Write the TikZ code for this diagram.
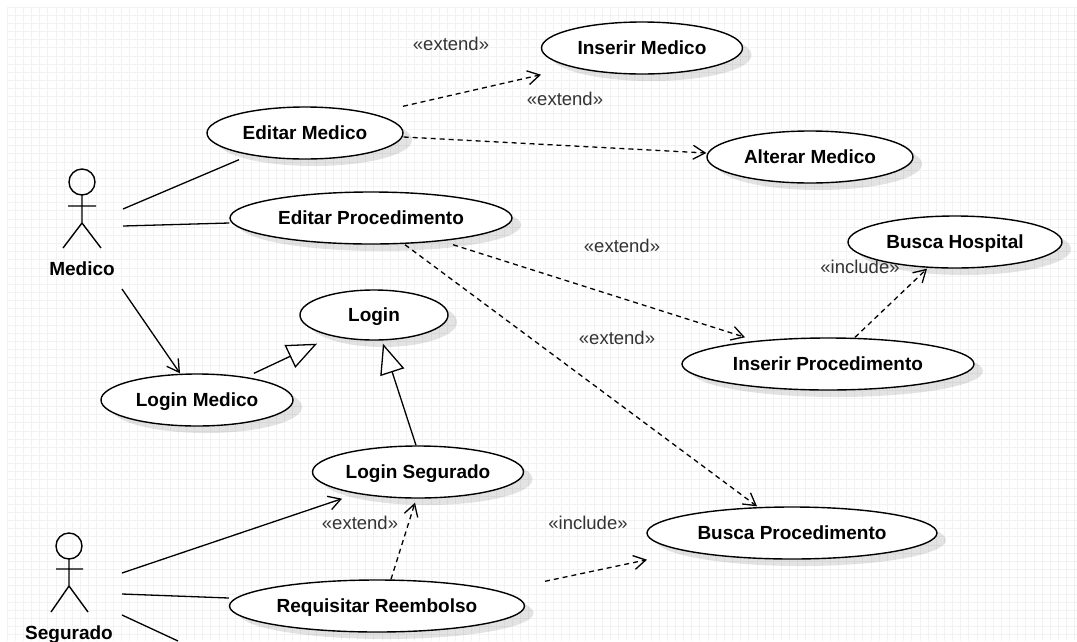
\documentclass[tikz,border=0pt]{standalone}
\usepackage{fontspec}
\setmainfont{Liberation Sans}
\usetikzlibrary{shapes.geometric,arrows.meta,shadows}
\begin{document}
\begin{tikzpicture}[x=1pt,y=-1pt,
  uc/.style={ellipse,draw,line width=1.4pt,fill=white,inner sep=0pt,
    font=\fontsize{19}{19}\selectfont\bfseries,text height=13.6pt,text depth=0pt,
    drop shadow={shadow xshift=9pt,shadow yshift=-7pt,fill=black,opacity=0.11}},
  lbl/.style={font=\fontsize{18.5}{18.5}\selectfont,text=black!80,inner sep=0pt},
  actorlbl/.style={font=\fontsize{19}{19}\selectfont\bfseries,inner sep=0pt},
  stick/.style={line width=1.4pt},
  assoc/.style={line width=1.3pt},
  navarrow/.style={line width=1.3pt,-{Straight Barb[length=12pt,width=14pt]}},
  dep/.style={line width=1.3pt,dash pattern=on 5pt off 4pt,-{Straight Barb[length=12pt,width=14pt]}},
  gen/.style={line width=1.3pt,-{Triangle[length=30pt,width=25pt,fill=white]}},
  gridline/.style={line width=0.6pt,draw=black!5}
]
\useasboundingbox (0,0) rectangle (1077,641);
\fill[white] (0,0) rectangle (1077,641);
% grid
\foreach \i in {0,...,131} {\draw[gridline] ({7+8.15*\i},7) -- ({7+8.15*\i},641);}
\foreach \j in {0,...,77} {\draw[gridline] (7,{7+8.15*\j}) -- (1077,{7+8.15*\j});}

% use cases
\node[uc,minimum width=196pt,minimum height=52pt] (em) at (305,133) {Editar Medico};
\node[uc,minimum width=282pt,minimum height=52pt] (ep) at (371,218) {Editar Procedimento};
\node[uc,minimum width=148pt,minimum height=50pt] (login) at (374,315) {Login};
\node[uc,minimum width=201pt,minimum height=52pt] (im) at (642,48) {Inserir Medico};
\node[uc,minimum width=206pt,minimum height=52pt] (am) at (810,157) {Alterar Medico};
\node[uc,minimum width=214pt,minimum height=52pt] (bh) at (955,242) {Busca Hospital};
\node[uc,minimum width=292pt,minimum height=52pt] (ip) at (828,364) {Inserir Procedimento};
\node[uc,minimum width=290pt,minimum height=52pt] (bp) at (792,533) {Busca Procedimento};
\node[uc,minimum width=192pt,minimum height=52pt] (lm) at (197,400) {Login Medico};
\node[uc,minimum width=211pt,minimum height=52pt] (ls) at (418,472) {Login Segurado};
\node[uc,minimum width=295pt,minimum height=52pt] (rr) at (377,606) {Requisitar Reembolso};

% actors
\draw[stick] (82,182) circle[radius=13pt];
\draw[stick] (82,195) -- (82,223) (68,206) -- (96,206) (63,248) -- (82,223) -- (101,248);
\node[actorlbl,anchor=base] (medico) at (82,275) {Medico};
\draw[stick] (69,546) circle[radius=13pt];
\draw[stick] (69,559) -- (69,586) (56,569) -- (83,569) (51,612) -- (69,586) -- (88,612);
\node[actorlbl,anchor=base] (segurado) at (69,639) {Segurado};

\coordinate (m1) at (123,209);
\coordinate (m2) at (123,226);
\coordinate (m3) at (122,289);
\coordinate (s1) at (122,573);
\coordinate (s2) at (122,594);
\coordinate (s3) at (122,615);
\coordinate (s3e) at (178,641);

% associations
\draw[assoc] (m1) -- ([xshift=-66pt]em.south);
\draw[assoc] (m2) -- ([yshift=-5pt]ep.west);
\draw[navarrow] (m3) -- ([xshift=-17pt]lm.north);
\draw[navarrow] (s1) -- ([xshift=-76pt]ls.south);
\draw[assoc] (s2) -- ([yshift=8pt]rr.west);
\draw[assoc] (s3) -- (s3e);

% generalizations
\draw[gen] ([xshift=57pt]lm.north) -- ([xshift=-57pt,yshift=-3pt]login.south);
\draw[gen] ([xshift=-2pt]ls.north) -- ([xshift=9pt,yshift=-3pt]login.south);

% dependencies
\draw[dep] ([xshift=98pt]em.north) -- ([xshift=-101pt]im.south);
\draw[dep] ([yshift=-4pt]em.east) -- ([yshift=4pt]am.west);
\draw[dep] ([xshift=82pt]ep.south) -- ([xshift=-83pt]ip.north);
\draw[dep] ([xshift=34pt]ep.south) -- ([xshift=-35pt]bp.north);
\draw[dep] ([xshift=27pt]ip.north) -- ([xshift=-28pt]bh.south);
\draw[dep] ([xshift=14pt]rr.north) -- ([yshift=-4pt,xshift=-3pt]ls.south);
\draw[dep] ([xshift=168pt,yshift=-2pt]rr.north) -- ([xshift=-145pt]bp.south);

% labels
\node[lbl] (l1) at (451,44) {«extend»};
\node[lbl] (l2) at (565,99) {«extend»};
\node[lbl] (l3) at (622,246) {«extend»};
\node[lbl] (l4) at (617,338) {«extend»};
\node[lbl] (l5) at (860,267) {«include»};
\node[lbl] (l6) at (360,523) {«extend»};
\node[lbl] (l7) at (588,523) {«include»};
\end{tikzpicture}
\end{document}
